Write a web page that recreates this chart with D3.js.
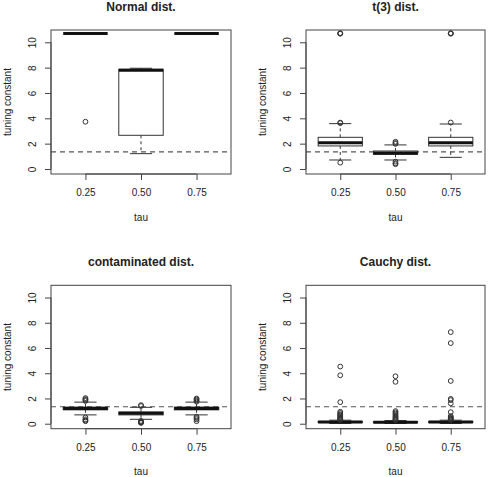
<!DOCTYPE html>
<html>
<head>
<meta charset="utf-8">
<script src="https://cdn.jsdelivr.net/npm/d3@7"></script>
<style>
  html, body { margin: 0; padding: 0; background: #fff; }
  svg { display: block; }
  text { font-family: "Liberation Sans", Arial, Helvetica, sans-serif; fill: #222; }
</style>
</head>
<body>
<svg id="chart" width="490" height="477"></svg>
<script>
// ---------- data ----------
const taus = ["0.25", "0.50", "0.75"];
const yTicks = [0, 2, 4, 6, 8, 10];
const titles = ["Normal dist.", "t(3) dist.", "contaminated dist.", "Cauchy dist."];
const huberC = 1.345;

// box stats: [lower whisker, Q1, median, Q3, upper whisker]
const normalStats = [[10.7, 10.7, 10.7, 10.7, 10.7], [1.21, 2.66, 7.79, 7.87, 7.95], [10.7, 10.7, 10.7, 10.7, 10.7]];
const normalOutliers = [[3.73], [], []];

const t3Stats = [[0.71, 1.82, 2.08, 2.50, 3.58], [0.71, 1.15, 1.27, 1.42, 1.90], [0.92, 1.82, 2.08, 2.50, 3.55]];
const t3Outliers = [[10.7, 10.72, 10.68, 3.66, 3.62, 0.50], [2.15, 2.05, 1.98, 0.58, 0.45, 0.38], [10.7, 10.72, 10.68, 3.67]];

const contStats = [[0.70, 1.10, 1.20, 1.32, 1.71], [0.35, 0.70, 0.82, 0.93, 1.30], [0.70, 1.10, 1.20, 1.32, 1.71]];
const contOutliers = [[2.03, 1.95, 1.88, 1.80, 0.50, 0.35, 0.25, 0.20], [1.47, 1.40, 0.22, 0.16, 0.12, 0.10, 0.06], [2.00, 1.92, 1.82, 1.75, 0.55, 0.45, 0.35, 0.20]];

const cauchyStats = [[0.02, 0.09, 0.13, 0.18, 0.28], [0.02, 0.08, 0.12, 0.16, 0.25], [0.02, 0.09, 0.13, 0.18, 0.28]];
const cauchyOutliers = [
  [4.53, 3.84, 1.71, 0.95, 0.85, 0.75, 0.68, 0.60, 0.52, 0.45, 0.40, 0.35, 0.31],
  [3.76, 3.32, 1.00, 0.90, 0.80, 0.70, 0.60, 0.52, 0.45, 0.38, 0.32, 0.28],
  [7.26, 6.39, 3.39, 1.97, 1.87, 1.61, 0.92, 0.60, 0.52, 0.45, 0.40, 0.35, 0.31]
];

const panelStats = [normalStats, t3Stats, contStats, cauchyStats];
const panelOutliers = [normalOutliers, t3Outliers, contOutliers, cauchyOutliers];

// ---------- layout ----------
const plots = [
  { x0: 51, x1: 231, y0: 30, y1: 174 },
  { x0: 306, x1: 485, y0: 30, y1: 174 },
  { x0: 51, x1: 231, y0: 285.3, y1: 428.7 },
  { x0: 306, x1: 485, y0: 285.3, y1: 428.7 }
];

const svg = d3.select("#chart");
const lineCol = "#333";

plots.forEach((p, i) => {
  const g = svg.append("g");
  const x = d3.scaleLinear().domain([0.38, 3.62]).range([p.x0, p.x1]);
  const y = d3.scaleLinear().domain([-0.395, 10.97]).range([p.y1, p.y0]);
  const boxW = x(1.4) - x(0.6);

  // reference line
  g.append("line")
    .attr("x1", p.x0).attr("x2", p.x1)
    .attr("y1", y(huberC)).attr("y2", y(huberC))
    .attr("stroke", "#555").attr("stroke-width", 1.2)
    .attr("stroke-dasharray", "5,4");

  // boxes
  panelStats[i].forEach((s, j) => {
    const cx = x(j + 1);
    const [lw, q1, med, q3, uw] = s;
    g.append("line").attr("x1", cx).attr("x2", cx)
      .attr("y1", y(q3)).attr("y2", y(uw))
      .attr("stroke", lineCol).attr("stroke-dasharray", "3,3");
    g.append("line").attr("x1", cx).attr("x2", cx)
      .attr("y1", y(q1)).attr("y2", y(lw))
      .attr("stroke", lineCol).attr("stroke-dasharray", "3,3");
    [lw, uw].forEach(v => {
      g.append("line").attr("x1", cx - boxW / 4).attr("x2", cx + boxW / 4)
        .attr("y1", y(v)).attr("y2", y(v))
        .attr("stroke", lineCol).attr("stroke-width", 1);
    });
    g.append("rect")
      .attr("x", cx - boxW / 2).attr("width", boxW)
      .attr("y", y(q3)).attr("height", Math.max(0, y(q1) - y(q3)))
      .attr("fill", "#fff").attr("stroke", lineCol).attr("stroke-width", 1);
    g.append("line").attr("x1", cx - boxW / 2).attr("x2", cx + boxW / 2)
      .attr("y1", y(med)).attr("y2", y(med))
      .attr("stroke", "#111").attr("stroke-width", 3);
    panelOutliers[i][j].forEach(v => {
      g.append("circle").attr("cx", cx).attr("cy", y(v)).attr("r", 2.4)
        .attr("fill", "none").attr("stroke", lineCol).attr("stroke-width", 1);
    });
  });

  // frame
  g.append("rect")
    .attr("x", p.x0).attr("y", p.y0)
    .attr("width", p.x1 - p.x0).attr("height", p.y1 - p.y0)
    .attr("fill", "none").attr("stroke", "#444").attr("stroke-width", 1);

  // y axis
  const ya = g.append("g").attr("transform", `translate(${p.x0},0)`)
    .call(d3.axisLeft(y).tickValues(yTicks).tickSize(6).tickSizeOuter(0).tickFormat(d3.format("d")));
  ya.select(".domain").attr("d", `M0,${y(0)}V${y(10)}`).attr("stroke", "#444");
  ya.selectAll(".tick line").attr("stroke", "#444");
  ya.selectAll(".tick text")
    .attr("font-size", 10).attr("fill", "#222")
    .attr("x", 0).attr("dy", 0)
    .attr("transform", "translate(-15,0) rotate(-90)")
    .attr("text-anchor", "middle")
    .attr("dominant-baseline", "auto");

  // x axis
  const xa = g.append("g").attr("transform", `translate(0,${p.y1})`)
    .call(d3.axisBottom(x).tickValues([1, 2, 3]).tickSize(6).tickSizeOuter(0).tickFormat((d, k) => taus[k]));
  xa.select(".domain").attr("d", `M${x(1)},0H${x(3)}`).attr("stroke", "#444");
  xa.selectAll(".tick line").attr("stroke", "#444");
  xa.selectAll(".tick text").attr("font-size", 10).attr("fill", "#222")
    .attr("y", 15).attr("dy", "0.71em");

  // axis titles
  g.append("text").attr("x", (p.x0 + p.x1) / 2).attr("y", p.y1 + 46.5)
    .attr("text-anchor", "middle").attr("font-size", 10).text("tau");
  g.append("text")
    .attr("transform", `translate(${p.x0 - 40},${(p.y0 + p.y1) / 2}) rotate(-90)`)
    .attr("text-anchor", "middle").attr("font-size", 10).text("tuning constant");

  // title
  g.append("text").attr("x", (p.x0 + p.x1) / 2).attr("y", p.y0 - 19.5)
    .attr("text-anchor", "middle").attr("font-size", 12).attr("font-weight", "bold")
    .attr("fill", "#111").text(titles[i]);
});
</script>
</body>
</html>
